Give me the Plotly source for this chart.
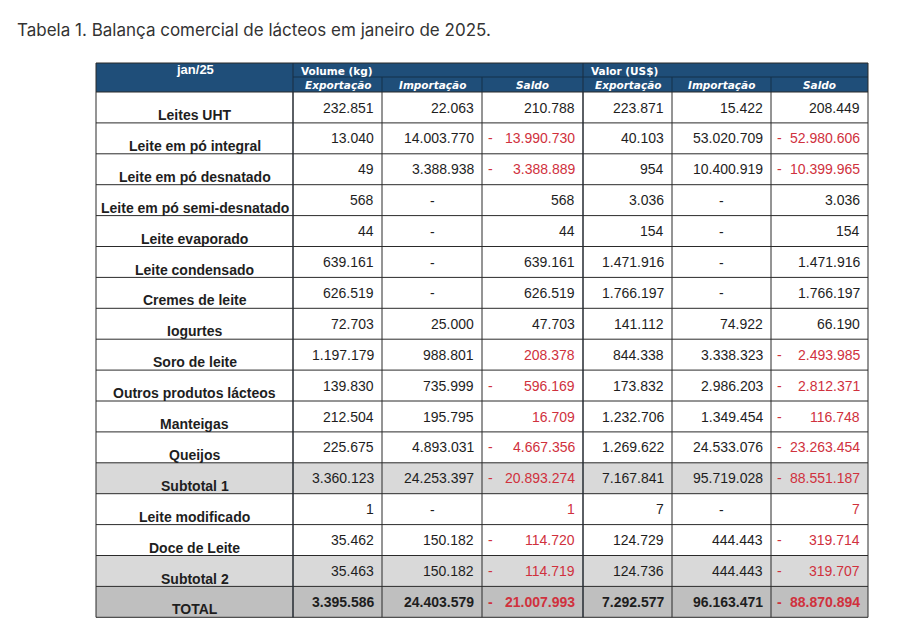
import plotly.graph_objects as go

# ---------------- data ----------------
title = "Tabela 1. Balança comercial de lácteos em janeiro de 2025."
corner_label = "jan/25"
group_labels = ["Volume (kg)", "Valor (US$)"]
sub_labels = ["Exportação", "Importação", "Saldo"]

products = [
    "Leites UHT", "Leite em pó integral", "Leite em pó desnatado",
    "Leite em pó semi-desnatado", "Leite evaporado", "Leite condensado",
    "Cremes de leite", "Iogurtes", "Soro de leite", "Outros produtos lácteos",
    "Manteigas", "Queijos", "Subtotal 1", "Leite modificado", "Doce de Leite",
    "Subtotal 2", "TOTAL",
]
vol_exp = [232851, 13040, 49, 568, 44, 639161, 626519, 72703, 1197179, 139830,
           212504, 225675, 3360123, 1, 35462, 35463, 3395586]
vol_imp = [22063, 14003770, 3388938, None, None, None, None, 25000, 988801, 735999,
           195795, 4893031, 24253397, None, 150182, 150182, 24403579]
vol_saldo = [210788, -13990730, -3388889, 568, 44, 639161, 626519, 47703, 208378,
             -596169, 16709, -4667356, -20893274, 1, -114720, -114719, -21007993]
val_exp = [223871, 40103, 954, 3036, 154, 1471916, 1766197, 141112, 844338, 173832,
           1232706, 1269622, 7167841, 7, 124729, 124736, 7292577]
val_imp = [15422, 53020709, 10400919, None, None, None, None, 74922, 3338323, 2986203,
           1349454, 24533076, 95719028, None, 444443, 444443, 96163471]
val_saldo = [208449, -52980606, -10399965, 3036, 154, 1471916, 1766197, 66190,
             -2493985, -2812371, -116748, -23263454, -88551187, 7, -319714,
             -319707, -88870894]

# rows whose "Saldo" is highlighted in red in the source
red_saldo_rows = ["Leite em pó integral", "Leite em pó desnatado", "Soro de leite",
                  "Outros produtos lácteos", "Manteigas", "Queijos", "Subtotal 1",
                  "Leite modificado", "Doce de Leite", "Subtotal 2", "TOTAL"]
subtotal_rows = ["Subtotal 1", "Subtotal 2"]
total_rows = ["TOTAL"]

columns = [vol_exp, vol_imp, vol_saldo, val_exp, val_imp, val_saldo]
saldo_cols = [2, 5]

# ---------------- layout / style ----------------
W, H = 900, 630
OFF = 8  # default page body margin
col_edges = [96, 293, 382, 482, 583, 672, 771, 868]
head_top, head_mid, head_bot = 63, 77, 92
row_h = 30.9
HEAD_BG = "#1f4e79"
GRID = "#2a2a2a"
RED = "#d0313d"
TXT = "#1e1e1e"
SUB_BG = "#d9d9d9"
TOT_BG = "#bfbfbf"
NUM_FONT = "Liberation Sans, Arial, sans-serif"
HEAD_FONT = "DejaVu Sans, Verdana, sans-serif"


def fmt(v):
    if v is None:
        return "-"
    return f"{abs(v):,}".replace(",", ".")


shapes = []
ann = []

shapes.append(dict(type="rect", xref="x", yref="y", x0=col_edges[0], x1=col_edges[-1],
                   y0=head_top, y1=head_bot, fillcolor=HEAD_BG, line=dict(width=0),
                   layer="below"))

n = len(products)
row_tops = [head_bot + i * row_h for i in range(n)]
for i, p in enumerate(products):
    bg = None
    if p in subtotal_rows:
        bg = SUB_BG
    elif p in total_rows:
        bg = TOT_BG
    if bg:
        shapes.append(dict(type="rect", xref="x", yref="y", x0=col_edges[0],
                           x1=col_edges[-1], y0=row_tops[i], y1=row_tops[i] + row_h,
                           fillcolor=bg, line=dict(width=0), layer="below"))

table_bot = head_bot + n * row_h


def line(x0, y0, x1, y1, color=GRID, w=1):
    shapes.append(dict(type="line", xref="x", yref="y", x0=x0, y0=y0, x1=x1, y1=y1,
                       line=dict(color=color, width=w)))


line(col_edges[0], head_top, col_edges[-1], head_top)
line(col_edges[1], head_mid, col_edges[-1], head_mid, color="#15304a")
line(col_edges[0], head_bot, col_edges[-1], head_bot)
for i in range(1, n + 1):
    y = head_bot + i * row_h
    line(col_edges[0], y, col_edges[-1], y)

for j, x in enumerate(col_edges):
    if j in (0, 1, 4, 7):
        line(x, head_top, x, table_bot, color=GRID if j in (0, 7) else "#1b2d40")
        if j not in (0, 7):
            line(x, head_bot, x, table_bot)
    else:
        line(x, head_mid, x, head_bot, color="#15304a")
        line(x, head_bot, x, table_bot)

ann.append(dict(x=15, y=30, xref="x", yref="y", text=title, showarrow=False,
                xanchor="left", yanchor="middle",
                font=dict(family="Inter, Lato, sans-serif", size=17, color="#333333")))

ann.append(dict(x=(col_edges[0] + col_edges[1]) / 2, y=69, xref="x", yref="y",
                text="<b>" + corner_label + "</b>", showarrow=False,
                xanchor="center", yanchor="middle",
                font=dict(family=NUM_FONT, size=13, color="white")))
for g, gl in enumerate(group_labels):
    ann.append(dict(x=col_edges[1 + 3 * g] + 6, y=70.5, xref="x", yref="y",
                    text="<b>" + gl + "</b>", showarrow=False,
                    xanchor="left", yanchor="middle",
                    font=dict(family=HEAD_FONT, size=10.5, color="white")))
for c in range(6):
    ann.append(dict(x=(col_edges[c + 1] + col_edges[c + 2]) / 2, y=85, xref="x",
                    yref="y", text="<b><i>" + sub_labels[c % 3] + "</i></b>",
                    showarrow=False, xanchor="center", yanchor="middle",
                    font=dict(family=HEAD_FONT, size=10.5, color="white")))

for i, p in enumerate(products):
    top = row_tops[i]
    bold = p in total_rows
    ann.append(dict(x=(col_edges[0] + col_edges[1]) / 2, y=top + 23, xref="x",
                    yref="y", text="<b>" + p + "</b>", showarrow=False,
                    xanchor="center", yanchor="middle",
                    font=dict(family=NUM_FONT, size=14, color=TXT)))
    for c, col in enumerate(columns):
        v = col[i]
        red = c in saldo_cols and p in red_saldo_rows
        color = RED if red else TXT
        txt = fmt(v)
        if bold:
            txt = "<b>" + txt + "</b>"
        if v is None:
            ann.append(dict(x=(col_edges[c + 1] + col_edges[c + 2]) / 2, y=top + 16,
                            xref="x", yref="y", text=txt, showarrow=False,
                            xanchor="center", yanchor="middle",
                            font=dict(family=NUM_FONT, size=14, color=TXT)))
            continue
        ann.append(dict(x=col_edges[c + 2] - 6, y=top + 15.5, xref="x", yref="y",
                        text=txt, showarrow=False, xanchor="right", yanchor="middle",
                        font=dict(family=NUM_FONT, size=14, color=color)))
        if v < 0:
            ann.append(dict(x=col_edges[c + 1] + 4, y=top + 15.5, xref="x", yref="y",
                            text="<b>-</b>" if bold else "-", showarrow=False,
                            xanchor="left", yanchor="middle",
                            font=dict(family=NUM_FONT, size=14, color=RED)))

fig = go.Figure()
fig.add_trace(go.Scatter(x=[OFF, W], y=[OFF, H], mode="markers",
                         marker=dict(opacity=0), hoverinfo="skip", showlegend=False))
fig.update_layout(
    width=W - OFF, height=H - OFF, margin=dict(l=0, r=0, t=0, b=0),
    paper_bgcolor="white", plot_bgcolor="white",
    xaxis=dict(range=[OFF, W], visible=False, fixedrange=True),
    yaxis=dict(range=[H, OFF], visible=False, fixedrange=True),
    shapes=shapes, annotations=ann, showlegend=False,
)
fig.write_html("out.html", config={"displayModeBar": False})
